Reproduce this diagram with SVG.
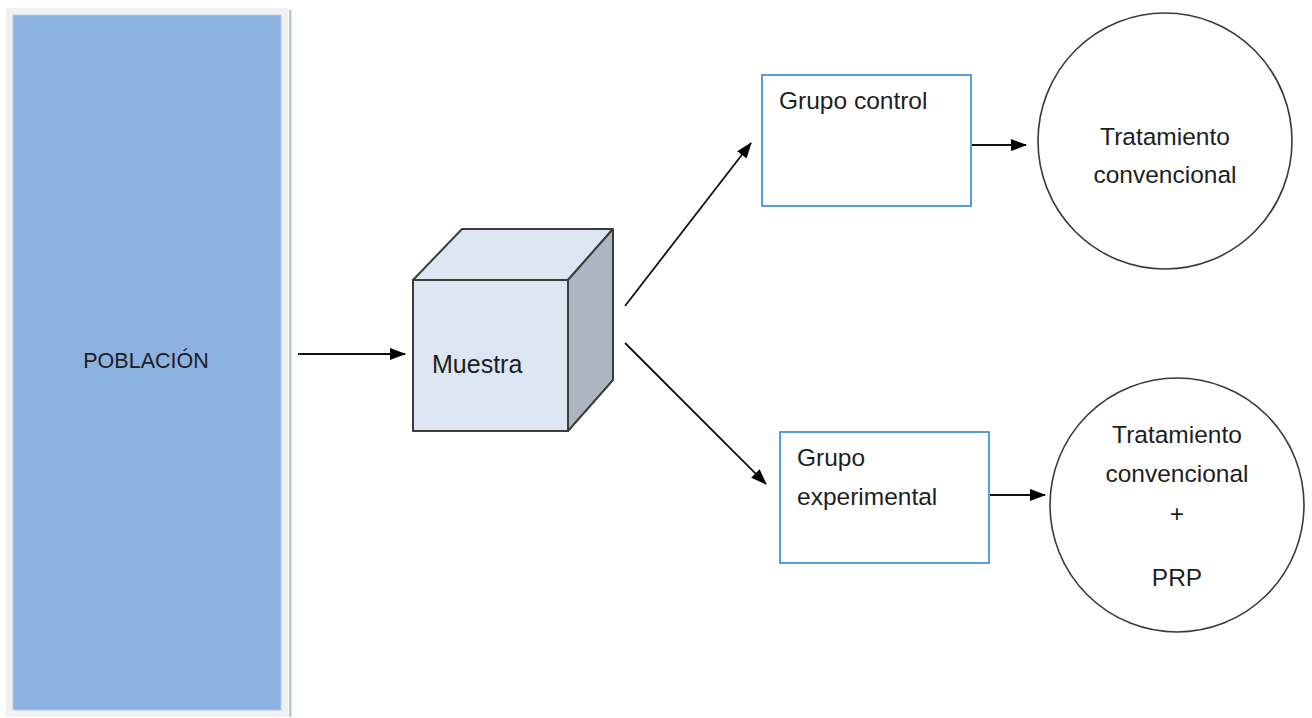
<svg xmlns="http://www.w3.org/2000/svg" width="1312" height="718" viewBox="0 0 1312 718">
  <style>
    .lbl { font-family: "Liberation Sans", Arial, sans-serif; font-size: 24.5px; fill: #1e1e1e; }
    .box { fill: #ffffff; stroke: #2f86d8; stroke-width: 1.6; }
    .circ { fill: #ffffff; stroke: #3a3a3a; stroke-width: 1.6; }
    .cube { stroke: #3c3c3c; stroke-width: 2; stroke-linejoin: round; }
    .conn { stroke: #111111; stroke-width: 1.8; fill: none; marker-end: url(#arrow); }
  </style>
  <defs>
    <marker id="arrow" markerUnits="userSpaceOnUse" markerWidth="16" markerHeight="12" refX="15" refY="6" orient="auto">
      <path d="M0,0 L16,6 L0,12 Z" fill="#000000"/>
    </marker>
  </defs>

  <rect width="1312" height="718" fill="#ffffff"/>

  <!-- population panel -->
  <g id="poblacion">
    <rect x="6" y="8" width="282" height="709" fill="#f1f1f1"/>
    <rect x="289" y="10" width="2.5" height="707" fill="#b8c9cc"/>
    <rect x="13" y="15" width="268" height="695" fill="#8db1e1" stroke="#b4cbea" stroke-width="1"/>
    <text class="lbl" x="146" y="368" text-anchor="middle" style="font-size:21.5px">POBLACIÓN</text>
  </g>

  <!-- sample cube -->
  <g id="muestra">
    <polygon class="cube" points="413,280 462,229 613,229 568,280" fill="#dce6f2"/>
    <polygon class="cube" points="568,280 613,229 613,380 568,431" fill="#adb5c0"/>
    <rect class="cube" x="413" y="280" width="155" height="151" fill="#dce6f2"/>
    <text class="lbl" x="432" y="373" style="font-size:25px">Muestra</text>
  </g>

  <!-- groups -->
  <g id="grupo-control">
    <rect class="box" x="762" y="75" width="209" height="131"/>
    <text class="lbl" x="779" y="109">Grupo control</text>
  </g>
  <g id="grupo-experimental">
    <rect class="box" x="780" y="432" width="209" height="131"/>
    <text class="lbl" x="797" y="466">Grupo</text>
    <text class="lbl" x="797" y="505">experimental</text>
  </g>

  <!-- treatments -->
  <g id="tratamiento-control">
    <ellipse class="circ" cx="1165" cy="141" rx="127" ry="128"/>
    <text class="lbl" x="1165" y="145" text-anchor="middle">Tratamiento</text>
    <text class="lbl" x="1165" y="183" text-anchor="middle">convencional</text>
  </g>
  <g id="tratamiento-experimental">
    <ellipse class="circ" cx="1177" cy="505" rx="127" ry="127"/>
    <text class="lbl" x="1177" y="443" text-anchor="middle">Tratamiento</text>
    <text class="lbl" x="1177" y="482" text-anchor="middle">convencional</text>
    <text class="lbl" x="1177" y="522" text-anchor="middle">+</text>
    <text class="lbl" x="1177" y="586" text-anchor="middle">PRP</text>
  </g>

  <!-- connectors -->
  <g id="connectors">
    <line class="conn" x1="298" y1="354" x2="405" y2="354"/>
    <line class="conn" x1="625" y1="306" x2="751" y2="143"/>
    <line class="conn" x1="625" y1="343" x2="766" y2="484"/>
    <line class="conn" x1="972" y1="145" x2="1026" y2="145"/>
    <line class="conn" x1="990" y1="495" x2="1045" y2="495"/>
  </g>
</svg>
